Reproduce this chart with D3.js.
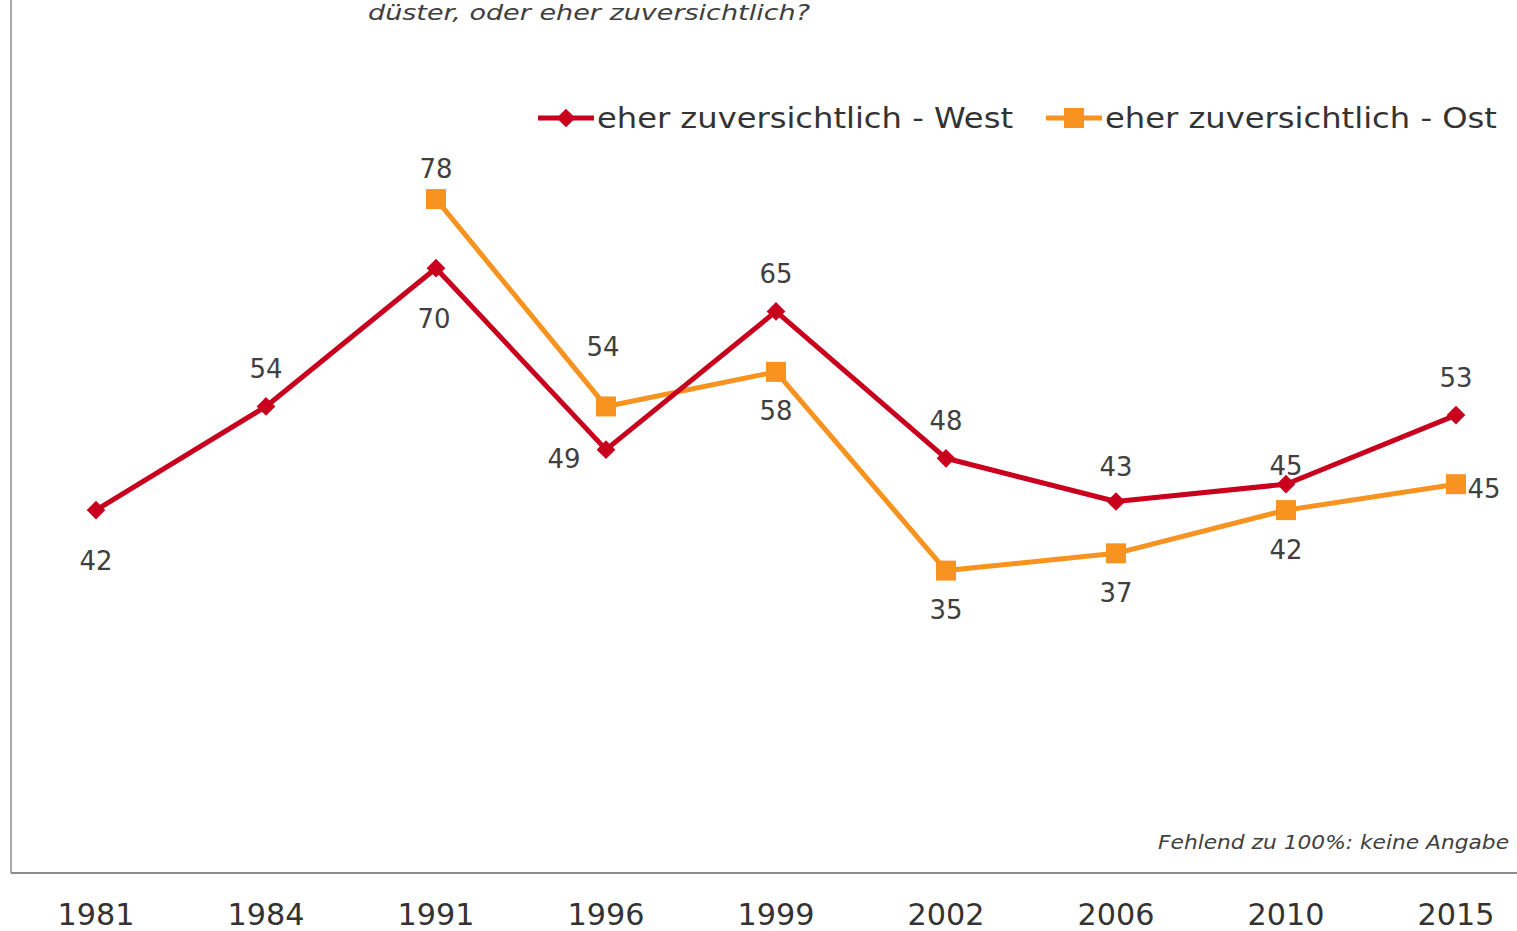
<!DOCTYPE html>
<html><head><meta charset="utf-8">
<script src="https://cdn.jsdelivr.net/npm/d3@7"></script>
<style>html,body{margin:0;padding:0;background:#fff;overflow:hidden}svg{display:block}text{font-family:"DejaVu Sans",Verdana,sans-serif}</style>
</head><body><svg id="c" width="1517" height="931"></svg>
<script>
const years = ["1981","1984","1991","1996","1999","2002","2006","2010","2015"];
const west = [42,54,70,49,65,48,43,45,53];
const ost = [null,null,78,54,58,35,37,42,45];
const seriesNames = ["eher zuversichtlich - West","eher zuversichtlich - Ost"];
// label offsets [dx, dy] relative to each point
const westLabelOffsets = [[0,51],[0,-37],[-2,51],[-42,9],[0,-37],[0,-37],[0,-34],[0,-18],[0,-37]];
const ostLabelOffsets = [null,null,[0,-30],[-3,-59],[0,39],[0,39],[0,40],[0,40],[28,5]];

const svg = d3.select("#c");
const W = 1517, H = 931;
const x = d3.scaleBand().domain(years).range([11, 1541]);
const cx = d => x(d) + x.bandwidth()/2;
const y = d3.scaleLinear().domain([0,100]).range([873, 9]);
const red = "#C8001E", orange = "#F7931E", gray = "#404040";

// frame lines
svg.append("line").attr("x1",11).attr("x2",11).attr("y1",0).attr("y2",y(0)).attr("stroke","#8c8c8c").attr("stroke-width",1.5);
const xAxis = d3.axisBottom(x).tickSize(0).tickPadding(0);
const gx = svg.append("g").attr("transform",`translate(0,${y(0)})`).call(xAxis);
gx.select(".domain").attr("stroke","#8c8c8c").attr("stroke-width",2).attr("d",`M11,0H${W}`);
gx.selectAll("text").attr("font-size",31).attr("fill","#333").attr("font-family","DejaVu Sans, Verdana, sans-serif")
  .attr("dy",null).attr("y",52).attr("textLength",77).attr("lengthAdjust","spacingAndGlyphs");

// title fragment
svg.append("text").attr("x",368).attr("y",20).attr("font-size",22).attr("font-style","italic").attr("fill","#404040")
  .attr("textLength",442).attr("lengthAdjust","spacingAndGlyphs").text("düster, oder eher zuversichtlich?");
// footnote
svg.append("text").attr("x",1158).attr("y",849).attr("font-size",20).attr("font-style","italic").attr("fill","#404040")
  .attr("textLength",351).attr("lengthAdjust","spacingAndGlyphs").text("Fehlend zu 100%: keine Angabe");

const line = d3.line().defined(d => d.v != null).x(d => cx(d.year)).y(d => y(d.v));
const westData = years.map((yr,i)=>({year:yr,v:west[i],o:westLabelOffsets[i]}));
const ostData = years.map((yr,i)=>({year:yr,v:ost[i],o:ostLabelOffsets[i]})).filter(d=>d.v!=null);

svg.append("path").datum(ostData).attr("d",line).attr("fill","none").attr("stroke",orange).attr("stroke-width",5).attr("stroke-linejoin","round");
svg.append("path").datum(westData).attr("d",line).attr("fill","none").attr("stroke",red).attr("stroke-width",5).attr("stroke-linejoin","round");

const diamond = d3.symbol().type(d3.symbolSquare).size(175);
svg.selectAll(".wm").data(westData).enter().append("path")
  .attr("d",diamond).attr("fill",red)
  .attr("transform",d=>`translate(${cx(d.year)},${y(d.v)}) rotate(45)`);
svg.selectAll(".om").data(ostData).enter().append("rect")
  .attr("x",d=>cx(d.year)-10).attr("y",d=>y(d.v)-10).attr("width",20).attr("height",20).attr("fill",orange);

function labels(data){
  svg.append("g").selectAll("text").data(data).enter().append("text")
    .attr("x",d=>cx(d.year)+d.o[0]).attr("y",d=>y(d.v)+d.o[1])
    .attr("text-anchor","middle").attr("dominant-baseline","central")
    .attr("font-size",26).attr("fill",gray).attr("textLength",33).attr("lengthAdjust","spacingAndGlyphs").text(d=>d.v);
}
labels(westData); labels(ostData);

// legend
const lg = svg.append("g");
const legendItems = [{name:seriesNames[0],c:red,t:"d",x0:538,w:416},{name:seriesNames[1],c:orange,t:"s",x0:1046,w:392}];
legendItems.forEach(it=>{
  lg.append("line").attr("x1",it.x0).attr("x2",it.x0+56).attr("y1",118).attr("y2",118).attr("stroke",it.c).attr("stroke-width",5);
  if(it.t==="d") lg.append("path").attr("d",diamond()).attr("fill",it.c).attr("transform",`translate(${it.x0+28},118) rotate(45)`);
  else lg.append("rect").attr("x",it.x0+18).attr("y",108).attr("width",20).attr("height",20).attr("fill",it.c);
  lg.append("text").attr("x",it.x0+59).attr("y",118).attr("dominant-baseline","central").attr("font-size",29).attr("fill","#333")
    .attr("textLength",it.w).attr("lengthAdjust","spacingAndGlyphs").text(it.name);
});
</script></body></html>
